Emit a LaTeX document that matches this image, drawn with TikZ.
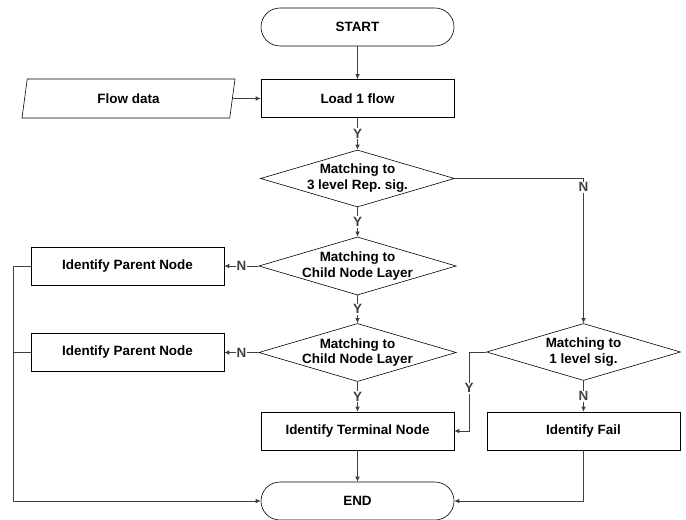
\documentclass[tikz,border=0pt]{standalone}
\usepackage{fontspec}
\setmainfont{Liberation Sans}
\usetikzlibrary{arrows.meta, positioning, shapes.geometric}

\tikzset{
  base/.style={draw, line width=0.6pt, font=\bfseries\fontsize{13.5}{16}\selectfont, align=center, inner sep=0pt},
  proc/.style={base, rectangle, minimum width=193bp, minimum height=38bp},
  term/.style={proc, rounded corners=19bp},
  io/.style={base, trapezium, trapezium left angle=62, trapezium right angle=118,
    trapezium stretches body, minimum width=213bp, minimum height=39bp},
  decision/.style={base, diamond, aspect=3.4, inner xsep=-5bp, minimum width=194bp, minimum height=57bp},
  flow/.style={line width=0.6pt, black!75, -{Latex[length=5pt,width=4.5pt]}},
  link/.style={line width=0.6pt, black!75},
  yn/.style={font=\bfseries\fontsize{13.5}{16}\selectfont, fill=white, inner sep=1pt},
}

\begin{document}
\begin{tikzpicture}[x=1bp, y=-1bp]
    \useasboundingbox (0,0) rectangle (686,520);
    % main column
    \node[term] (start) at (357.5,27) {START};
    \node[proc] (load) at (357.5,98.5) {Load 1 flow};
    \node[io] (flowdata) at (128.5,98.5) {Flow data};
    \node[decision] (match3) at (357.5,178.5) {Matching to\\3 level Rep.\ sig.};
    \node[decision] (matchA) at (357.5,266) {Matching to\\Child Node Layer};
    \node[decision] (matchB) at (357.5,352.5) {Matching to\\Child Node Layer};
    \node[proc] (terminal) at (357.5,431) {Identify Terminal Node};
    \node[term] (stop) at (357.5,501) {END};
    % left side
    \node[proc] (parentA) at (127.5,266) {Identify Parent Node};
    \node[proc] (parentB) at (127.5,352.5) {Identify Parent Node};
    % right side
    \node[decision] (match1) at (583.5,352) {Matching to\\1 level sig.};
    \node[proc] (fail) at (583.5,431) {Identify Fail};
    \coordinate (bus) at (13,266);
    \coordinate (ybend) at (469,352);

    \draw[flow] (start) -- (load);
    \draw[flow] (flowdata) -- (load);
    \draw[flow] (load) -- node[yn]{Y} (match3);
    \draw[flow] (match3) -| node[yn, pos=0.53]{N} (match1);
    \draw[flow] (match3) -- node[yn]{Y} (matchA);
    \draw[flow] (matchA) -- node[yn]{N} (parentA);
    \draw[flow] (matchA) -- node[yn]{Y} (matchB);
    \draw[flow] (matchB) -- node[yn]{N} (parentB);
    \draw[flow] (matchB) -- node[yn]{Y} (terminal);
    \draw[flow] (terminal) -- (stop);
    \draw[flow] (match1.west) -- (ybend) |- node[yn, pos=0.23]{Y} (terminal);
    \draw[flow] (match1) -- node[yn]{N} (fail);
    \draw[flow] (fail) |- (stop);
    \draw[link] (parentA) -- (bus);
    \draw[link] (parentB.west) -- (parentB.west -| bus);
    \draw[flow] (bus) |- (stop);
\end{tikzpicture}
\end{document}
